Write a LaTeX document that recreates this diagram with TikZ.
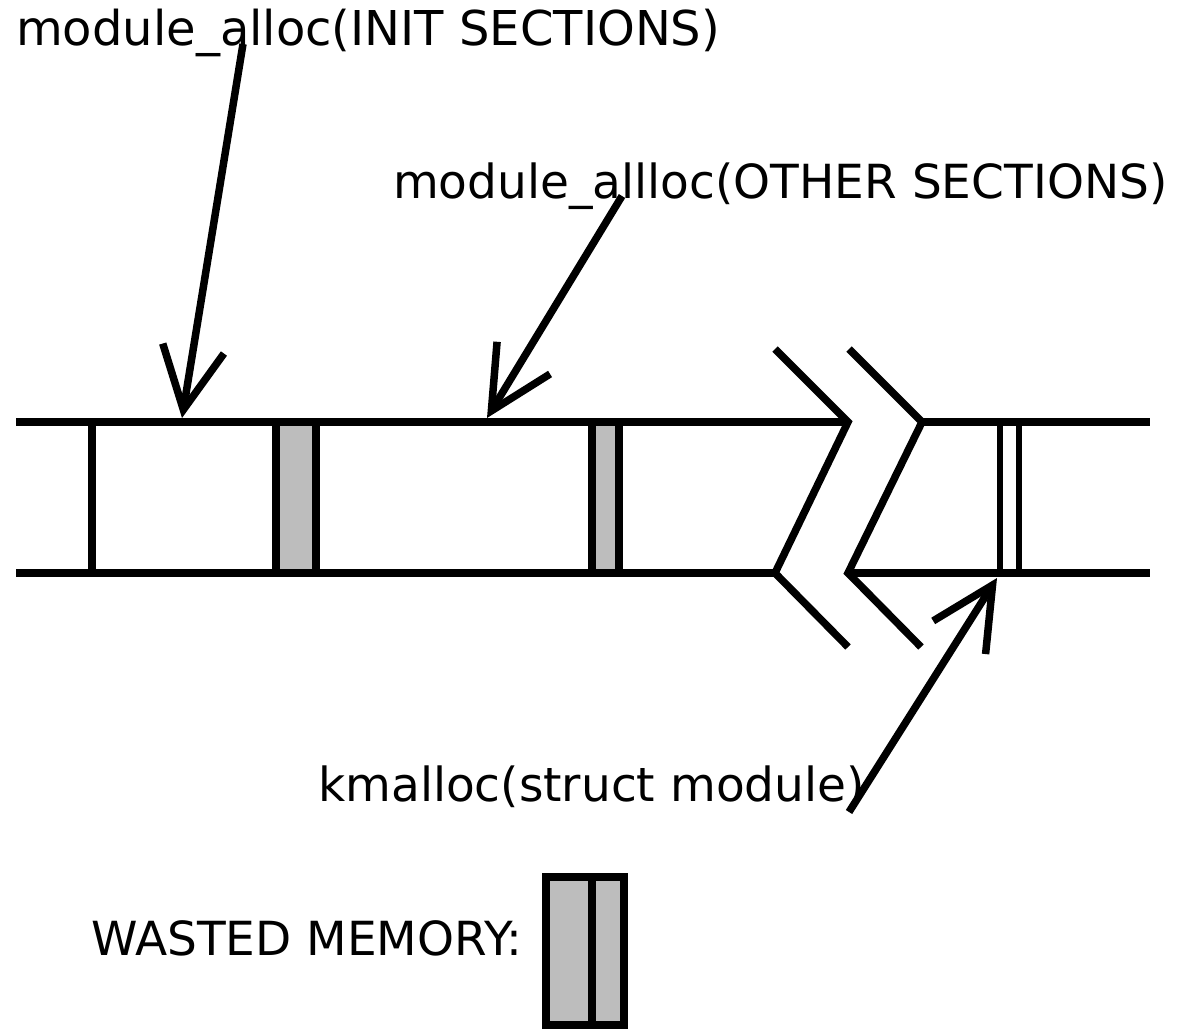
\documentclass[tikz,border=0pt]{standalone}
\usepackage{fontspec}
\setmainfont{DejaVu Sans}
\usetikzlibrary{arrows.meta}
\definecolor{waste}{RGB}{189,189,189}
\tikzset{
  mem/.style={line width=8pt, line cap=butt, line join=miter},
  brk/.style={line width=7.5pt, line cap=butt, line join=miter},
  ptr/.style={line width=7.5pt, line cap=butt, -{Straight Barb[length=62pt,width=62pt,line width=7.5pt]}},
  lbl/.style={anchor=base west, inner sep=0pt, font=\fontsize{47}{56}\selectfont},
}
\begin{document}
\begin{tikzpicture}[x=1pt,y=-1pt]
\useasboundingbox (0,0) rectangle (1180,1030);
% labels
\node[lbl, font=\fontsize{48}{58}\selectfont] (t1) at (16,46) {module\_alloc(INIT SECTIONS)};
\node[lbl] (t2) at (393,198) {module\_allloc(OTHER SECTIONS)};
\node[lbl] (t3) at (318,801) {kmalloc(struct module)};
\node[lbl] (t4) at (91,955) {WASTED MEMORY:};
% memory band
\filldraw[mem, fill=waste] (276,422) rectangle (316,573);
\filldraw[mem, fill=waste] (592,422) rectangle (619,573);
\draw[mem] (16,422) -- (848,422);
\draw[mem] (922,422) -- (1150,422);
\draw[mem] (16,573) -- (775,573);
\draw[mem] (848,573) -- (1150,573);
\draw[mem] (92,422) -- (92,573);
\draw[line width=6.5pt] (1000,422) -- (1000,573);
\draw[line width=6.5pt] (1019,422) -- (1019,573);
% break marks
\draw[brk] (775,349) -- (848,422) -- (775,573) -- (848,647);
\draw[brk] (849,349) -- (922,422) -- (848,573) -- (921,647);
% pointers
\coordinate (a1s) at (243,44);
\coordinate (a1e) at (182,418);
\coordinate (a2s) at (622,196);
\coordinate (a2e) at (487,418);
\coordinate (a3s) at (849,812);
\coordinate (a3e) at (997,578);
\draw[ptr] (a1s) -- (a1e);
\draw[ptr] (a2s) -- (a2e);
\draw[ptr] (a3s) -- (a3e);
% legend
\filldraw[line width=7.5pt, fill=waste] (546,877) rectangle (624,1025);
\draw[line width=7.5pt] (592,877) -- (592,1025);
\end{tikzpicture}
\end{document}
